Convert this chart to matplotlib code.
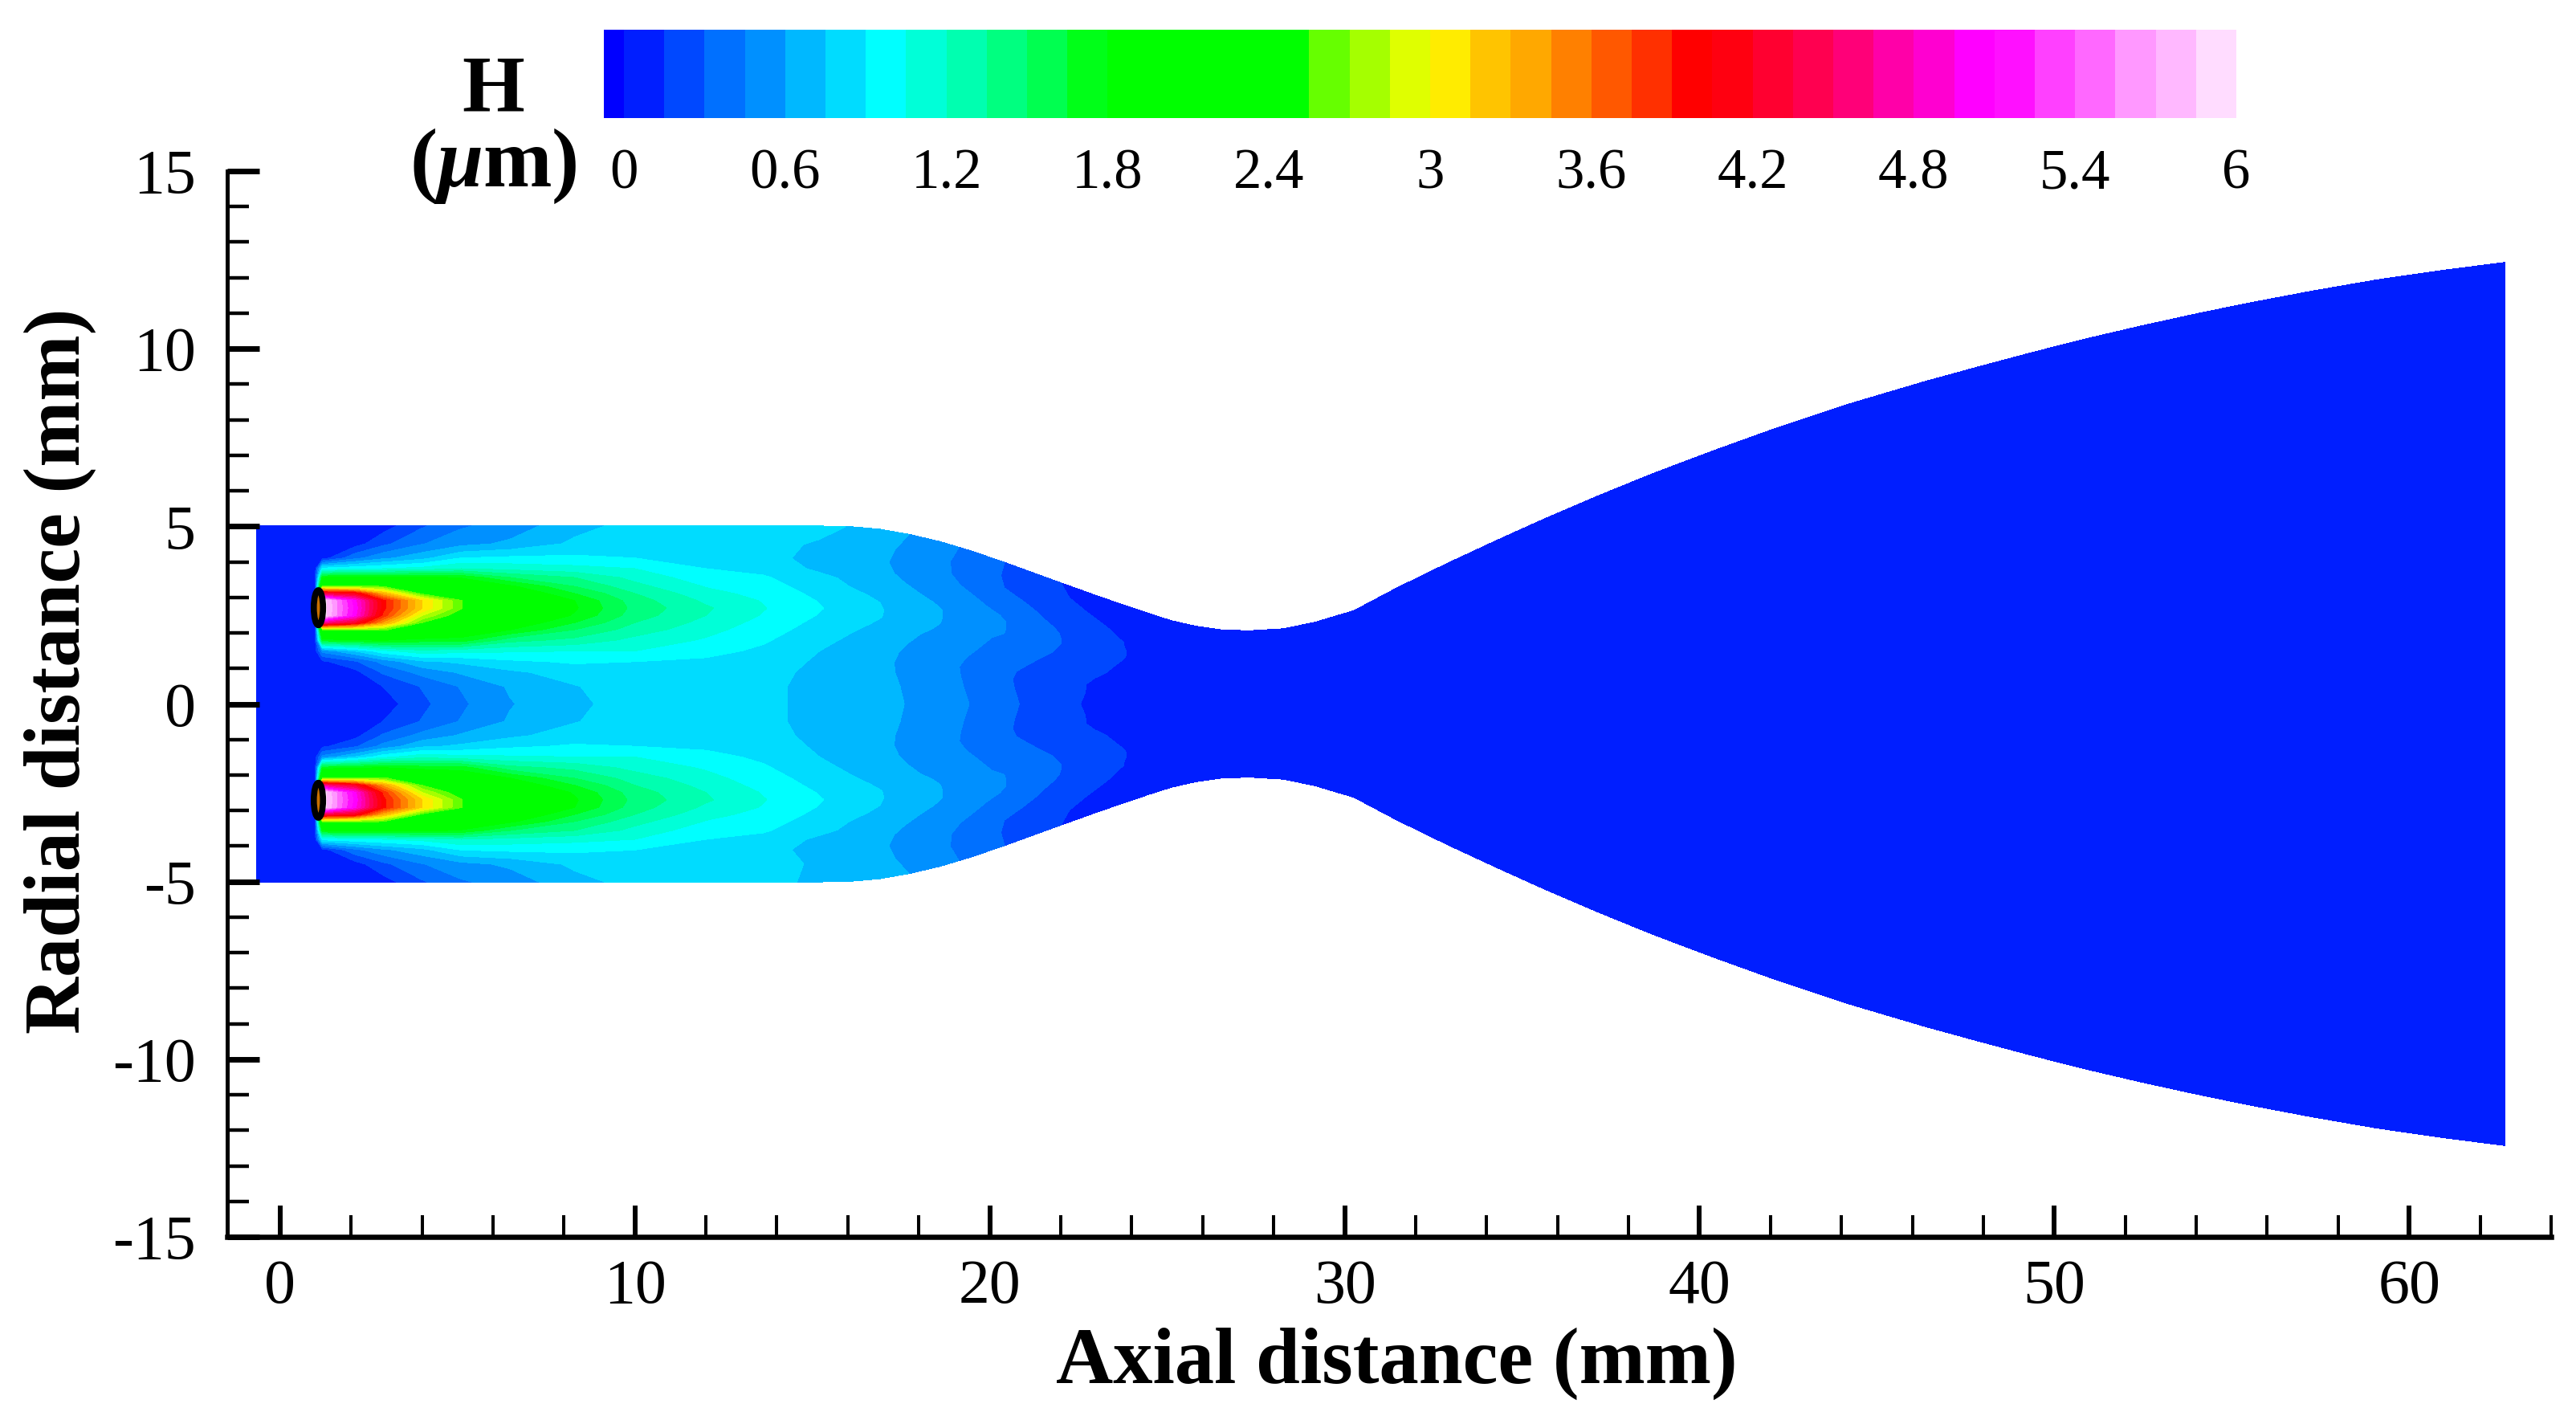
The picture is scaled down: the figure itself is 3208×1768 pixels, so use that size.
import numpy as np
import matplotlib; matplotlib.use('Agg')
import matplotlib.pyplot as plt
from matplotlib.colors import ListedColormap
from matplotlib.patches import Ellipse
from matplotlib.ticker import MultipleLocator

plt.rcParams['font.family'] = ['Liberation Serif', 'DejaVu Serif']
plt.rcParams['axes.unicode_minus'] = False
plt.rcParams['mathtext.fontset'] = 'custom'
plt.rcParams['mathtext.bf'] = 'Liberation Serif:bold'
plt.rcParams['mathtext.bfit'] = 'Liberation Serif:italic:bold'
plt.rcParams['mathtext.rm'] = 'Liberation Serif'

# contour levels and legend
H_levels = [-0.075, 0, 0.15, 0.3, 0.45, 0.6, 0.75, 0.9, 1.05, 1.2, 1.35, 1.5, 1.65, 1.8, 1.95,
            2.1, 2.25, 2.4, 2.55, 2.7, 2.85, 3.0, 3.15, 3.3, 3.45, 3.6, 3.75, 3.9, 4.05, 4.2,
            4.35, 4.5, 4.65, 4.8, 4.95, 5.1, 5.25, 5.4, 5.55, 5.7, 5.85, 6.0]
band_colors = ['#0000ff', '#001eff', '#0048ff', '#0070ff', '#0090ff', '#00b8ff', '#00dcff', '#00ffff',
               '#00ffd8', '#00ffb0', '#00ff80', '#00ff50', '#00ff18', '#00ff00', '#00ff00', '#00ff00',
               '#00ff00', '#00ff00', '#66ff00', '#a5ff00', '#dfff00', '#ffec00', '#ffc400', '#ffa800',
               '#ff8000', '#ff5800', '#ff3000', '#ff0000', '#ff0010', '#ff0030', '#ff0050', '#ff0078',
               '#ff00a8', '#ff00d0', '#ff00ff', '#ff10ff', '#ff40ff', '#ff68ff', '#ff98ff', '#ffb8ff',
               '#ffdcff']
legend_ticks = [0, 0.6, 1.2, 1.8, 2.4, 3, 3.6, 4.2, 4.8, 5.4, 6]
legend_labels = ['0', '0.6', '1.2', '1.8', '2.4', '3', '3.6', '4.2', '4.8', '5.4', '6']

# radial rows, given at the chamber radius (rows follow the wall downstream)
r_rows = [5, 4.5, 4.1, 3.8, 3.55, 3.3, 3.1, 2.9, 2.7, 2.5, 2.3, 2.1, 1.8, 1.5, 1.2, 0.9, 0.5, 0]

x_near = [-0.65, 1.0, 1.2, 2.1, 2.9, 4.0, 5.1, 6.5, 8.3, 10, 12, 13.6, 15.2, 16.05, 16.9, 17.75,
          18.6, 19.5, 20.4, 21.2, 22, 22.95, 23.9, 24.5]
wall_near = [5, 5, 5, 5, 5, 5, 5, 5, 5, 5, 5, 5, 5, 4.985, 4.91, 4.76,
             4.56, 4.29, 3.98, 3.69, 3.40, 3.06, 2.73, 2.53]
H_near = [
    [.05, .05, .05, .05, .05, .05, .05, .05, .05, .05, .05, .05, .05, .05, .05, .05, .05, .05],
    [.05, .05, .06, .1, .12, .13, .13, .13, .13, .13, .13, .13, .12, .1, .06, .05, .05, .05],
    [.05, .05, .08, .95, 1.8, 2.6, 4.3, 5.95, 5.95, 5.95, 4.6, 2.55, 1.7, .5, .12, .05, .05, .05],
    [.05, .08, .4, 1.0, 1.85, 2.6, 4.1, 5.0, 5.05, 5.0, 4.2, 2.6, 1.75, .75, .27, .1, .05, .05],
    [.08, .26, .56, 1.05, 1.85, 2.55, 3.3, 3.95, 3.95, 3.85, 3.4, 2.6, 1.8, 1.0, .5, .32, .15, .07],
    [.28, .44, .7, 1.1, 1.85, 2.2, 2.5, 3.15, 3.15, 2.85, 2.55, 2.2, 1.72, 1.15, .72, .5, .31, .26],
    [.43, .55, .9, 1.2, 1.78, 2.05, 2.3, 2.56, 2.56, 2.4, 2.25, 2.0, 1.72, 1.1, .78, .62, .46, .42],
    [.52, .63, .93, 1.15, 1.5, 1.83, 2.0, 2.1, 2.1, 2.05, 1.95, 1.8, 1.4, 1.07, .87, .72, .62, .59],
    [.7, .78, .93, 1.1, 1.35, 1.5, 1.65, 1.8, 1.82, 1.78, 1.65, 1.5, 1.3, 1.05, .92, .82, .74, .71],
    [.8, .84, .9, 1.05, 1.15, 1.25, 1.35, 1.42, 1.45, 1.42, 1.35, 1.28, 1.15, 1.05, .9, .87, .84, .83],
    [.8, .83, .87, .9, .96, 1.04, 1.1, 1.17, 1.22, 1.2, 1.15, 1.1, 1.03, .95, .87, .83, .81, .8],
    [.8, .8, .8, .85, .92, .97, 1.0, 1.04, 1.06, 1.04, 1.0, .97, .92, .87, .82, .79, .78, .78],
    [.8, .73, .7, .72, .79, .82, .86, .89, .91, .89, .86, .83, .79, .75, .73, .72, .71, .71],
    [.74, .685, .66, .675, .72, .75, .79, .82, .835, .82, .795, .765, .725, .695, .68, .675, .675, .675],
    [.68, .64, .62, .63, .65, .68, .72, .75, .76, .755, .73, .7, .66, .64, .63, .63, .64, .64],
    [.595, .56, .55, .565, .59, .62, .65, .68, .68, .68, .655, .625, .595, .575, .565, .57, .58, .59],
    [.51, .48, .48, .5, .53, .56, .585, .605, .605, .6, .58, .55, .53, .51, .5, .51, .52, .54],
    [.405, .385, .39, .42, .455, .485, .51, .53, .53, .525, .5, .48, .46, .435, .415, .415, .425, .44],
    [.3, .29, .3, .345, .38, .41, .44, .455, .455, .45, .42, .41, .385, .36, .33, .32, .33, .345],
    [.225, .225, .24, .28, .31, .335, .36, .375, .378, .375, .355, .345, .32, .29, .26, .25, .25, .26],
    [.15, .16, .185, .21, .24, .26, .28, .295, .3, .3, .29, .28, .25, .225, .195, .18, .175, .17],
    [.11, .12, .14, .16, .18, .195, .21, .22, .22, .22, .215, .205, .185, .17, .15, .14, .14, .135],
    [.07, .08, .1, .11, .12, .13, .14, .14, .145, .145, .14, .13, .12, .11, .1, .1, .1, .1],
    [.06, .065, .075, .08, .085, .09, .095, .095, .1, .1, .095, .09, .085, .08, .075, .075, .075, .075],
]

# the lower wall has no notch near x=15, only these wall values differ
x_low_fix = [13.6, 15.2, 16.05]
H_low_fix = [.78, .73, .70]

# throat and divergent part, one colour band only
x_far = [25.1, 25.8, 26.5, 27.3, 28.3, 29.2, 30.27, 31.5, 32.9, 34.3, 35.7, 37.2, 38.7, 40.4, 42.15, 44.2,
         46.4, 47.9, 49.4, 50.9, 52.4, 53.9, 55.4, 57.25, 59.1, 60.9, 62.7]
wall_far = [2.34, 2.18, 2.08, 2.05, 2.11, 2.3, 2.62, 3.27, 3.95, 4.6, 5.23, 5.87, 6.48, 7.12, 7.75, 8.43,
            9.08, 9.49, 9.89, 10.27, 10.62, 10.95, 11.26, 11.61, 11.93, 12.19, 12.42]
H_far = 0.05

# injector ovals
oval_x = [1.08, 1.08]
oval_r = [2.71, -2.71]

x_st = np.array(x_near + x_far)
wall = np.array(wall_near + wall_far)
H_up = np.vstack([np.array(H_near), np.full((len(x_far), len(r_rows)), H_far)])
H_low = H_up.copy()
for xf, hf in zip(x_low_fix, H_low_fix):
    H_low[x_near.index(xf), 0] = hf
eta = np.array(r_rows) / 5.0

# lower half is mirrored, centre row only once
eta_full = np.concatenate([eta, -eta[-2::-1]])
H_full = np.hstack([H_up, H_low[:, -2::-1]])
xx = np.zeros((len(x_st), len(eta_full)), dtype=float)
yy = np.zeros((len(x_st), len(eta_full)), dtype=float)
for i in range(0, len(x_st)):
    for j in range(0, len(eta_full)):
        xx[i, j] = x_st[i]
        yy[i, j] = wall[i] * eta_full[j]

W, H = 3208.0, 1768.0
fig = plt.figure(figsize=(32.08, 17.68), dpi=100)
ax = fig.add_axes([282.5 / W, 1 - 1540 / H, (3177 - 282.5) / W, (1540 - 213) / H])

cs = ax.contourf(xx, yy, H_full, levels=H_levels, colors=band_colors, extend='neither')
cs.set_edgecolor('face')
cs.set_linewidth(0.6)

for ox, orr in zip(oval_x, oval_r):
    ax.add_patch(Ellipse((ox, orr), 0.26, 0.98, facecolor='#c87000', edgecolor='k', lw=5.5, zorder=5))

ax.set_xlim(-1.5, 64)
ax.set_ylim(-15, 15)
ax.spines['top'].set_visible(False)
ax.spines['right'].set_visible(False)
ax.spines['left'].set_linewidth(3.6)
ax.spines['bottom'].set_linewidth(4.7)
ax.xaxis.set_major_locator(MultipleLocator(10))
ax.xaxis.set_minor_locator(MultipleLocator(2))
ax.yaxis.set_major_locator(MultipleLocator(5))
ax.yaxis.set_minor_locator(MultipleLocator(1))
ax.tick_params(axis='x', which='major', direction='in', length=28, width=4.3, labelsize=56, pad=20)
ax.tick_params(axis='x', which='minor', direction='in', length=19.5, width=2.9)
ax.tick_params(axis='y', which='major', direction='in', length=29, width=5, labelsize=56, pad=28)
ax.tick_params(axis='y', which='minor', direction='in', length=19.5, width=3.2)

# legend strip
cax = fig.add_axes([752 / W, 1 - 147 / H, (2785 - 752) / W, 110 / H])
cax.pcolormesh(H_levels, [0, 1], [np.arange(len(band_colors))], cmap=ListedColormap(band_colors),
               vmin=-0.5, vmax=len(band_colors) - 0.5)
cax.set_xlim(H_levels[0], H_levels[-1])
cax.set_yticks([])
cax.set_xticks(legend_ticks)
cax.set_xticklabels(legend_labels)
cax.tick_params(axis='x', length=0, labelsize=51, pad=27)
for s in cax.spines.values():
    s.set_visible(False)

fig.text(1739 / W, 1 - 1722 / H, 'Axial distance (mm)', ha='center', va='baseline', fontsize=71, fontweight='bold')
fig.text(75 / W, 1 - 835 / H, 'Radial distance (mm)', ha='center', va='center', rotation=90, fontsize=71, fontweight='bold')
fig.text(614 / W, 1 - 137 / H, 'H', ha='center', va='baseline', fontsize=72, fontweight='bold')
fig.text(614 / W, 1 - 232 / H, r'$\mathbf{(}\mathbfit{\mu}\mathbf{m)}$', ha='center', va='baseline', fontsize=74)

fig.savefig('out.png', dpi=100)
